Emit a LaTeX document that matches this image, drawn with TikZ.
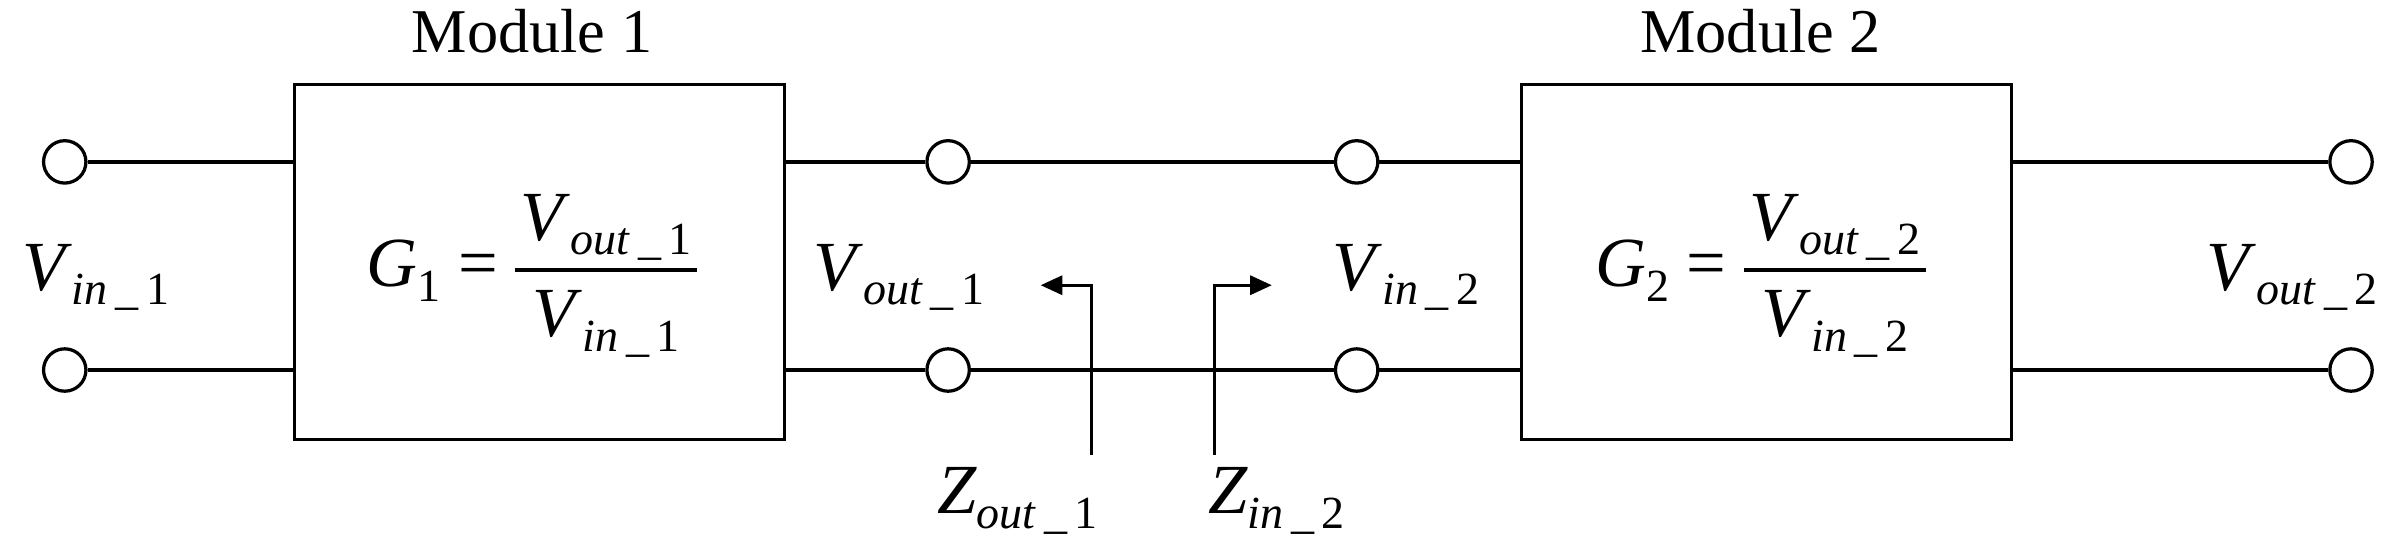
\documentclass[tikz,border=0pt]{standalone}
\usepackage{fontspec}
\setmainfont{Liberation Serif}
\usetikzlibrary{arrows.meta}
\newcommand\vsym[3]{\textit{#1}\raisebox{-0.45ex}{\fontsize{17}{20}\selectfont\textit{#2}\,\_\,#3}}
\newcommand\myfrac[2]{\setlength\arrayrulewidth{1.3pt}\renewcommand\arraystretch{1.15}\setlength\tabcolsep{2pt}$\vcenter{\hbox{\begin{tabular}{c}#1\\\hline #2\end{tabular}}}$}
\begin{document}
\begin{tikzpicture}[x=0.02cm,y=-0.02cm,
  term/.style={circle,draw,line width=1.2pt,minimum size=0.55cm,inner sep=0pt,fill=white},
  blk/.style={draw,line width=1.2pt,minimum width=6.36cm,minimum height=4.6cm},
  wire/.style={line width=1.2pt},
  lbl/.style={font=\fontsize{26}{30}\selectfont,inner sep=0pt},
  mlbl/.style={font=\fontsize{23}{27}\selectfont,inner sep=0pt}]
\useasboundingbox (0,0) rectangle (1560,363);
\node[blk] (b1) at (350,170) {};
\node[blk] (b2) at (1146,170) {};
\node[mlbl] (m1) at (345,20) {Module 1};
\node[mlbl] (m2) at (1142,20) {Module 2};
\node[term] (t1) at (42,105) {};
\node[term] (t2) at (42,240) {};
\node[term] (t3) at (615,105) {};
\node[term] (t4) at (615,240) {};
\node[term] (t5) at (880,105) {};
\node[term] (t6) at (880,240) {};
\node[term] (t7) at (1525,105) {};
\node[term] (t8) at (1525,240) {};
\draw[wire] (t1) -- (t1 -| b1.west);
\draw[wire] (t2) -- (t2 -| b1.west);
\draw[wire] (t3 -| b1.east) -- (t3);
\draw[wire] (t4 -| b1.east) -- (t4);
\draw[wire] (t3) -- (t5);
\draw[wire] (t4) -- (t6);
\draw[wire] (t5) -- (t5 -| b2.west);
\draw[wire] (t6) -- (t6 -| b2.west);
\draw[wire] (t7 -| b2.east) -- (t7);
\draw[wire] (t8 -| b2.east) -- (t8);
\node[lbl] (vi1) at (62,180) {\vsym{V}{in}{1}};
\node[lbl] (vo1) at (583,180) {\vsym{V}{out}{1}};
\node[lbl] (vi2) at (912,180) {\vsym{V}{in}{2}};
\node[lbl] (vo2) at (1487,180) {\vsym{V}{out}{2}};
\node[lbl] (g1) at (345,175) {\textit{G}\raisebox{-0.45ex}{\fontsize{17}{20}\selectfont 1} = \myfrac{\vsym{V}{out}{1}}{\vsym{V}{in}{1}}};
\node[lbl] (g2) at (1142,175) {\textit{G}\raisebox{-0.45ex}{\fontsize{17}{20}\selectfont 2} = \myfrac{\vsym{V}{out}{2}}{\vsym{V}{in}{2}}};
\coordinate (zo0) at (708,295);
\coordinate (zo1) at (708,185);
\coordinate (zo2) at (675,185);
\coordinate (zi0) at (788,295);
\coordinate (zi1) at (788,185);
\coordinate (zi2) at (825,185);
\draw[wire,-{Triangle[length=8pt,width=7pt]}] (zo0) -- (zo1) -- (zo2);
\draw[wire,-{Triangle[length=8pt,width=7pt]}] (zi0) -- (zi1) -- (zi2);
\node[lbl] (zo) at (660,325) {\vsym{Z}{out}{1}};
\node[lbl] (zi) at (828,325) {\vsym{Z}{in}{2}};
\end{tikzpicture}
\end{document}
